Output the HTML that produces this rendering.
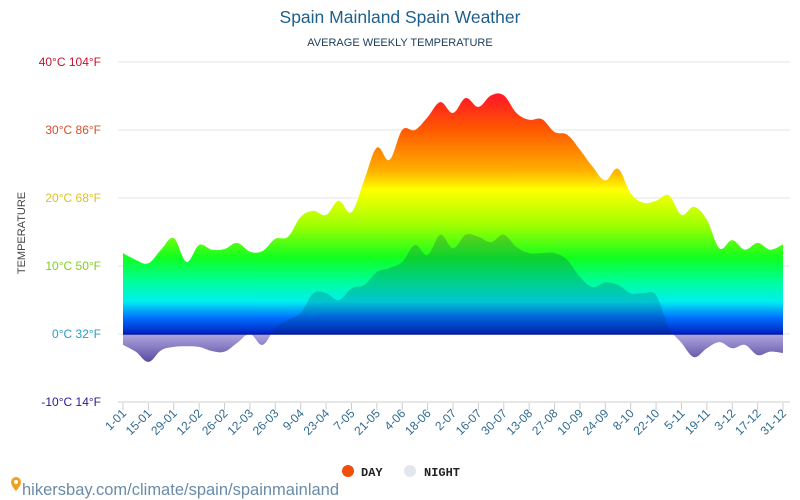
<!DOCTYPE html>
<html><head><meta charset="utf-8"><style>
body{margin:0;background:#fff;width:800px;height:500px;overflow:hidden;font-family:"Liberation Sans",sans-serif}
svg{display:block}
</style></head><body>
<svg id="chart" width="800" height="500" viewBox="0 0 800 500" xmlns="http://www.w3.org/2000/svg">
<defs>
<linearGradient id="rain" gradientUnits="userSpaceOnUse" x1="0" y1="62" x2="0" y2="334">
<stop offset="0" stop-color="#ff0060"/>
<stop offset="0.14" stop-color="#ff2020"/>
<stop offset="0.25" stop-color="#ff5a00"/>
<stop offset="0.4" stop-color="#ffb000"/>
<stop offset="0.47" stop-color="#ffff00"/>
<stop offset="0.6" stop-color="#a0ff00"/>
<stop offset="0.72" stop-color="#10ff20"/>
<stop offset="0.8" stop-color="#00ff90"/>
<stop offset="0.88" stop-color="#00f0f0"/>
<stop offset="0.94" stop-color="#0070ff"/>
<stop offset="1" stop-color="#0020c0"/>
</linearGradient>
<linearGradient id="purp" gradientUnits="userSpaceOnUse" x1="0" y1="334" x2="0" y2="362">
<stop offset="0" stop-color="#b0a8e0"/>
<stop offset="1" stop-color="#5a4aa0"/>
</linearGradient>
<clipPath id="above"><rect x="0" y="0" width="800" height="334"/></clipPath>
<clipPath id="below"><rect x="0" y="334" width="800" height="200"/></clipPath>
</defs>
<text x="400" y="23" text-anchor="middle" font-size="17.5" fill="#1e5f8c">Spain Mainland Spain Weather</text>
<text x="400" y="46" text-anchor="middle" font-size="11" fill="#1a3c5a">AVERAGE WEEKLY TEMPERATURE</text>
<text transform="translate(25,233) rotate(-90)" text-anchor="middle" font-size="11" fill="#444">TEMPERATURE</text>
<g id="grid"></g>
<g id="areas"></g>
<g id="xaxis"></g>
<g>
<g><circle cx="348" cy="471" r="6" fill="#f04e0a"/><text x="361" y="476" font-family="Liberation Mono,monospace" font-weight="bold" font-size="12" fill="#222">DAY</text></g>
<g><circle cx="410" cy="471" r="6" fill="#e2e6ee"/><text x="424" y="476" font-family="Liberation Mono,monospace" font-weight="bold" font-size="12" fill="#222">NIGHT</text></g>
</g>
<g>
<path d="M11 482a5 5 0 0 1 10 0c0 4-5 9-5 9s-5-5-5-9z" fill="#f0a020"/><circle cx="16" cy="482" r="2" fill="#fff"/>
<text x="22" y="495" font-size="16.5" fill="#6a8ca8">hikersbay.com/climate/spain/spainmainland</text>
</g>
</svg>
<script>
const categories=["1-01","15-01","29-01","12-02","26-02","12-03","26-03","9-04","23-04","7-05","21-05","4-06","18-06","2-07","16-07","30-07","13-08","27-08","10-09","24-09","8-10","22-10","5-11","19-11","3-12","17-12","31-12"];
const dayTemps=[11.9,10.9,10.4,12.4,14.1,10.6,13.1,12.4,12.5,13.4,12.1,12.2,14,14.3,17.2,18.1,17.5,19.6,17.9,22.6,27.4,25.6,30,30,31.9,34.1,32.5,34.7,33.4,35.1,35.1,32.5,31.5,31.6,29.7,29.3,27.1,24.6,22.6,24.3,20.7,19.3,19.6,20.4,17.5,18.7,16.8,12.6,13.8,12.4,13.4,12.4,13.2];
const nightTemps=[-1.6,-2.6,-4.1,-2.4,-1.9,-1.8,-1.9,-2.5,-2.6,-1.3,0,-1.6,0.9,2.1,3.1,6,6,5,6.7,7.2,9.1,9.7,10.6,13.1,11.6,14.6,12.6,14.6,14.3,13.5,14.6,12.8,11.9,11.9,11.9,10.9,8.4,6.9,7.6,7.2,6,6,5.7,1,-1.3,-3.4,-2.1,-1.2,-2.1,-1.6,-3.1,-2.6,-2.8];
const yTicks=[40,30,20,10,0,-10];
const yTickLabels=["40°C 104°F","30°C 86°F","20°C 68°F","10°C 50°F","0°C 32°F","-10°C 14°F"];
const yTickColors=["#c8102e","#d2502a","#e0c020","#80d020","#2a9ec0","#2a1a90"];
const NS="http://www.w3.org/2000/svg";
const x0=123,x1=783;
function xw(i,n){return x0+(x1-x0)*i/(n-1);}
function y(t){return 334-t*6.8;}
function mk(tag,attrs,parent){const e=document.createElementNS(NS,tag);for(const k in attrs)e.setAttribute(k,attrs[k]);parent.appendChild(e);return e;}
const grid=document.getElementById('grid');
yTicks.forEach((t,i)=>{
  const l=mk('line',{x1:118,x2:790,y1:y(t),y2:y(t),stroke:t===-10?'#ccc':'#e6e6e6','stroke-width':1},grid);
  
  
  const tx=mk('text',{x:101,y:y(t)+4,'text-anchor':'end','font-size':12,fill:yTickColors[i]},grid);
  tx.textContent=yTickLabels[i];
  
  
});
function smooth(vals){
  const n=vals.length,p=vals.map((v,i)=>[xw(i,n),y(v)]);
  let d='M'+p[0][0]+','+p[0][1];
  for(let i=0;i<n-1;i++){
    const a=p[Math.max(0,i-1)],b=p[i],c=p[i+1],e=p[Math.min(n-1,i+2)];
    const t=0.18;
    d+=' C'+(b[0]+(c[0]-a[0])*t)+','+(b[1]+(c[1]-a[1])*t)+' '+(c[0]-(e[0]-b[0])*t)+','+(c[1]-(e[1]-b[1])*t)+' '+c[0]+','+c[1];
  }
  return d;
}
function area(vals){return smooth(vals)+' L'+x1+','+y(0)+' L'+x0+','+y(0)+' Z';}
const areas=document.getElementById('areas');
const dayA=mk('path',{d:area(dayTemps),fill:'url(#rain)','clip-path':'url(#above)'},areas);


const nA=mk('path',{d:area(nightTemps),fill:'rgba(0,50,90,0.22)','clip-path':'url(#above)'},areas);


const nB=mk('path',{d:area(nightTemps),fill:'url(#purp)','clip-path':'url(#below)'},areas);


const zl=mk('line',{x1:x0,x2:x1,y1:y(0),y2:y(0),stroke:'#0a1a9a','stroke-width':1.5},areas);


const xa=document.getElementById('xaxis');
categories.forEach((c,i)=>{
  const x=xw(i,categories.length);
  const tk=mk('line',{x1:x,x2:x,y1:403,y2:410,stroke:'#ccc'},xa);
  
  
  const t=mk('text',{x:x+4,y:414,'text-anchor':'end','font-size':12,fill:'#2f6a90',transform:'rotate(-45 '+(x+4)+' 414)'},xa);
  t.textContent=c;
  
  
});
</script>
</body></html>
